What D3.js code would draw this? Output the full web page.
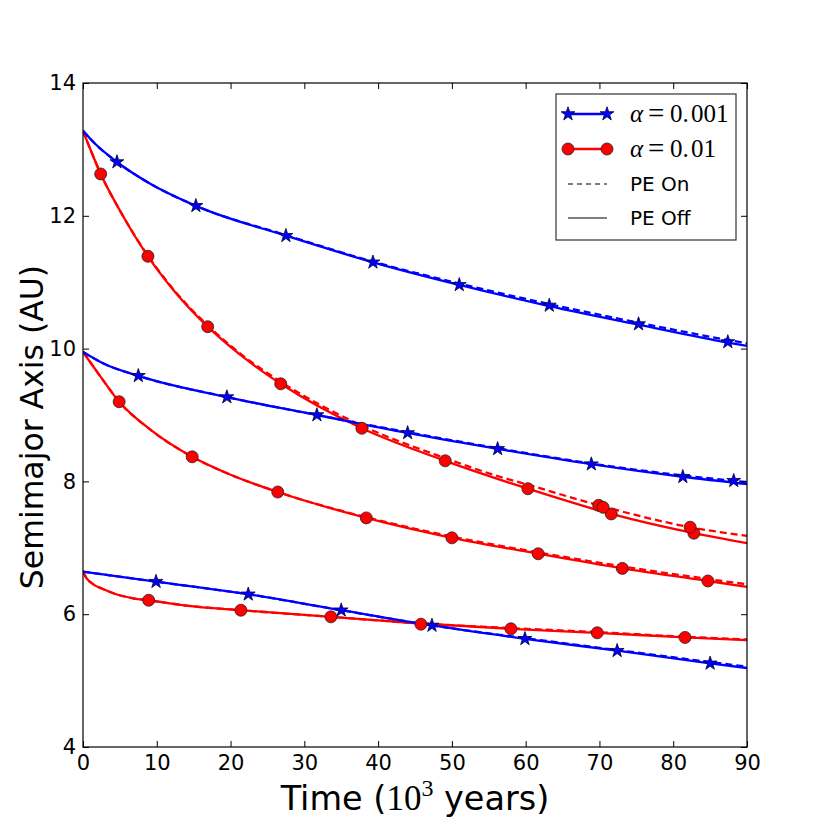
<!DOCTYPE html>
<html><head><meta charset="utf-8">
<script src="https://cdn.jsdelivr.net/npm/d3@7"></script>
<style>body{margin:0;background:#fff}</style>
</head><body><svg id="c" width="830" height="830"></svg>
<script>
// ---------- data ----------
const xTicks = [0,10,20,30,40,50,60,70,80,90];
const yTicks = [4,6,8,10,12,14];

// alpha = 0.001 (blue), start 13.3 AU
const blueHighOffT = [0,1.5,4.6,9,15.3,27.5,39.3,51,63.2,75.3,87.4,90];
const blueHighOffA = [13.28,13.10,12.81,12.49,12.15,11.70,11.30,10.96,10.64,10.36,10.09,10.04];
const blueHighOnT  = [0,1.5,4.6,9,15.3,27.5,39.3,51,63.2,75.3,87.4,90];
const blueHighOnA  = [13.28,13.10,12.81,12.49,12.15,11.71,11.31,10.98,10.67,10.39,10.13,10.08];
const blueHighMarkT = [4.6,15.3,27.5,39.3,51,63.2,75.3,87.4];
const blueHighMarkA = [12.81,12.15,11.70,11.30,10.96,10.65,10.37,10.10];

// alpha = 0.01 (red), start 13.3 AU
const redHighOffT = [0,1,2.4,5,8.8,12.5,16.9,21.5,26.8,37.8,49.1,60.3,71.6,82.8,90];
const redHighOffA = [13.28,13.00,12.63,12.08,11.39,10.85,10.33,9.89,9.47,8.80,8.31,7.89,7.51,7.22,7.07];
const redHighOnT  = [0,1,2.4,5,8.8,12.5,16.9,21.5,26.8,37.8,49.1,56.5,60.3,69.9,82.3,90];
const redHighOnA  = [13.28,13.00,12.63,12.08,11.40,10.86,10.35,9.91,9.50,8.84,8.35,8.07,7.95,7.64,7.31,7.18];
const redHighMarkT = [2.4,8.8,16.9,26.8,37.8,49.1,60.3,71.6,82.8];
const redHighMarkA = [12.63,11.39,10.33,9.47,8.80,8.31,7.89,7.51,7.22];
const redHighOnMarkT = [69.9,70.5,82.3];
const redHighOnMarkA = [7.64,7.61,7.31];

// alpha = 0.001 (blue), start 9.95 AU
const blueMidOffT = [0,2.7,7.5,19.5,31.7,44,56.2,68.9,81.3,90];
const blueMidOffA = [9.95,9.78,9.59,9.27,9.00,8.73,8.49,8.26,8.07,7.96];
const blueMidOnT  = [0,2.7,7.5,19.5,31.7,44,56.2,68.9,81.3,88.2,90];
const blueMidOnA  = [9.95,9.78,9.59,9.27,9.00,8.74,8.50,8.27,8.09,8.01,7.99];
const blueMidMarkT = [7.5,19.5,31.7,44,56.2,68.9,81.3,88.2];
const blueMidMarkA = [9.59,9.27,9.00,8.73,8.49,8.26,8.07,8.01];

// alpha = 0.01 (red), start 9.95 AU
const redMidOffT = [0,2.3,4.9,9,14.8,20,26.4,38.4,50,61.7,73.1,84.7,90];
const redMidOffA = [9.95,9.59,9.20,8.79,8.37,8.10,7.84,7.45,7.15,6.91,6.69,6.50,6.41];
const redMidOnT  = [0,2.3,4.9,9,14.8,20,26.4,38.4,50,61.7,73.1,84.7,90];
const redMidOnA  = [9.95,9.59,9.20,8.79,8.37,8.10,7.84,7.46,7.17,6.93,6.72,6.53,6.45];
const redMidMarkT = [4.9,14.8,26.4,38.4,50,61.7,73.1,84.7];
const redMidMarkA = [9.20,8.37,7.84,7.45,7.15,6.91,6.69,6.50];

// alpha = 0.001 (blue), start 6.65 AU
const blueLowOffT = [0,2.7,9.9,22.4,35,47.3,59.9,72.4,85,90];
const blueLowOffA = [6.64,6.60,6.49,6.30,6.06,5.83,5.63,5.45,5.26,5.19];
const blueLowOnT  = [0,2.7,9.9,22.4,35,47.3,59.9,72.4,85,90];
const blueLowOnA  = [6.64,6.60,6.49,6.30,6.06,5.83,5.64,5.46,5.28,5.21];
const blueLowMarkT = [9.9,22.4,35,47.3,59.9,72.4,85];
const blueLowMarkA = [6.49,6.30,6.06,5.83,5.63,5.45,5.26];

// alpha = 0.01 (red), start 6.65 AU
const redLowOffT = [0,0.5,1.4,2.7,4.5,6.8,8.9,14,21.4,33.6,45.8,58,69.7,81.6,90];
const redLowOffA = [6.64,6.54,6.45,6.38,6.30,6.24,6.21,6.13,6.06,5.96,5.86,5.78,5.72,5.65,5.61];
const redLowOnT  = redLowOffT;
const redLowOnA  = [6.64,6.54,6.45,6.38,6.30,6.24,6.21,6.13,6.06,5.96,5.86,5.79,5.73,5.66,5.62];
const redLowMarkT = [8.9,21.4,33.6,45.8,58,69.7,81.6];
const redLowMarkA = [6.21,6.06,5.96,5.85,5.78,5.72,5.65];

// ---------- build ----------
const zip = (t,a) => t.map((v,i)=>[v,a[i]]);
const BLUE = "#0000ff", RED = "#ff0000";
const lines = [
  {d: zip(redHighOnT, redHighOnA), c: RED, dash: true},
  {d: zip(redMidOnT, redMidOnA), c: RED, dash: true},
  {d: zip(redLowOnT, redLowOnA), c: RED, dash: true},
  {d: zip(redHighOffT, redHighOffA), c: RED, dash: false},
  {d: zip(redMidOffT, redMidOffA), c: RED, dash: false},
  {d: zip(redLowOffT, redLowOffA), c: RED, dash: false},
  {d: zip(blueHighOnT, blueHighOnA), c: BLUE, dash: true},
  {d: zip(blueMidOnT, blueMidOnA), c: BLUE, dash: true},
  {d: zip(blueLowOnT, blueLowOnA), c: BLUE, dash: true},
  {d: zip(blueHighOffT, blueHighOffA), c: BLUE, dash: false},
  {d: zip(blueMidOffT, blueMidOffA), c: BLUE, dash: false},
  {d: zip(blueLowOffT, blueLowOffA), c: BLUE, dash: false},
];
const circles = [].concat(zip(redHighMarkT, redHighMarkA), zip(redHighOnMarkT, redHighOnMarkA),
  zip(redMidMarkT, redMidMarkA), zip(redLowMarkT, redLowMarkA));
const stars = [].concat(zip(blueHighMarkT, blueHighMarkA), zip(blueMidMarkT, blueMidMarkA),
  zip(blueLowMarkT, blueLowMarkA));

const svg = d3.select("#c");
const L = 83, R = 747, T = 83, B = 747;
const x = d3.scaleLinear().domain([0,90]).range([L,R]);
const y = d3.scaleLinear().domain([4,14]).range([B,T]);
const FONT = "DejaVu Sans, sans-serif";
const SERIF = "Liberation Serif, serif";

svg.append("defs").append("clipPath").attr("id","clip")
  .append("rect").attr("x",L).attr("y",T).attr("width",R-L).attr("height",B-T);

const g = svg.append("g").attr("clip-path","url(#clip)");
const line = d3.line().x(d=>x(d[0])).y(d=>y(d[1])).curve(d3.curveMonotoneX);
g.selectAll("path.l").data(lines).join("path").attr("class","l")
  .attr("d", d=>line(d.d)).attr("fill","none").attr("stroke", d=>d.c)
  .attr("stroke-width", 2.3).attr("stroke-dasharray", d=>d.dash ? "7,4" : null);

const starSym = d3.symbol().type(d3.symbolStar).size(60);
g.selectAll("path.s").data(stars).join("path").attr("class","s")
  .attr("transform", d=>`translate(${x(d[0])},${y(d[1])})`).attr("d", starSym())
  .attr("fill", BLUE).attr("stroke","#000033").attr("stroke-width",0.8);
g.selectAll("circle.m").data(circles).join("circle").attr("class","m")
  .attr("cx", d=>x(d[0])).attr("cy", d=>y(d[1])).attr("r",6)
  .attr("fill", RED).attr("stroke","#222").attr("stroke-width",0.8);

// axes
function styleAxis(sel){
  sel.select(".domain").remove();
  sel.selectAll(".tick line").attr("stroke","#000").attr("stroke-width",1);
  sel.selectAll(".tick text").attr("font-family",FONT).attr("font-size",21).attr("fill","#000");
}
svg.append("g").attr("transform",`translate(0,${B})`)
  .call(d3.axisBottom(x).tickValues(xTicks).tickSizeInner(-6).tickSizeOuter(0).tickPadding(8).tickFormat(d3.format("d")))
  .call(styleAxis);
svg.append("g").attr("transform",`translate(0,${T})`)
  .call(d3.axisTop(x).tickValues(xTicks).tickSizeInner(-6).tickSizeOuter(0).tickFormat(""))
  .call(styleAxis);
svg.append("g").attr("transform",`translate(${L},0)`)
  .call(d3.axisLeft(y).tickValues(yTicks).tickSizeInner(-6).tickSizeOuter(0).tickPadding(7).tickFormat(d3.format("d")))
  .call(styleAxis);
svg.append("g").attr("transform",`translate(${R},0)`)
  .call(d3.axisRight(y).tickValues(yTicks).tickSizeInner(-6).tickSizeOuter(0).tickFormat(""))
  .call(styleAxis);

svg.append("rect").attr("x",L).attr("y",T).attr("width",R-L).attr("height",B-T)
  .attr("fill","none").attr("stroke","#000").attr("stroke-width",1.2);

// axis labels
const xl = svg.append("text").attr("x",(L+R)/2).attr("y",810).attr("text-anchor","middle")
  .attr("font-family",FONT).attr("font-size",33.5).attr("fill","#000");
xl.append("tspan").text("Time (");
xl.append("tspan").attr("font-family",SERIF).attr("font-size",35).text("10");
xl.append("tspan").attr("font-family",SERIF).attr("font-size",24).attr("dy",-14).text("3");
xl.append("tspan").attr("dy",14).text(" years)");

svg.append("text").attr("transform",`translate(43,427) rotate(-90)`).attr("text-anchor","middle")
  .attr("font-family",FONT).attr("font-size",31.5).attr("fill","#000").text("Semimajor Axis (AU)");

// legend
const lg = svg.append("g");
lg.append("rect").attr("x",556).attr("y",94).attr("width",180).attr("height",146)
  .attr("fill","#fff").attr("stroke","#333").attr("stroke-width",1.2);
const legendItems = [
  {type:"star", y:114, num:"001"},
  {type:"circle", y:149, num:"01"},
  {type:"dash", y:184, label:"PE On"},
  {type:"solid", y:218, label:"PE Off"}
];
const lx0 = 568, lx1 = 607;
legendItems.forEach(it=>{
  if(it.type==="star"){
    lg.append("line").attr("x1",lx0).attr("x2",lx1).attr("y1",it.y).attr("y2",it.y).attr("stroke",BLUE).attr("stroke-width",2.3);
    [lx0,lx1].forEach(px=>lg.append("path").attr("transform",`translate(${px},${it.y})`).attr("d",starSym())
      .attr("fill",BLUE).attr("stroke","#000033").attr("stroke-width",0.8));
  } else if(it.type==="circle"){
    lg.append("line").attr("x1",lx0).attr("x2",lx1).attr("y1",it.y).attr("y2",it.y).attr("stroke",RED).attr("stroke-width",2.3);
    [lx0,lx1].forEach(px=>lg.append("circle").attr("cx",px).attr("cy",it.y).attr("r",6)
      .attr("fill",RED).attr("stroke","#222").attr("stroke-width",0.8));
  } else {
    lg.append("line").attr("x1",lx0).attr("x2",lx1).attr("y1",it.y).attr("y2",it.y).attr("stroke","#000")
      .attr("stroke-width",1.2).attr("stroke-dasharray", it.type==="dash" ? "5,4" : null);
  }
  if(it.num){
    const t = lg.append("text").attr("y",it.y+8).attr("fill","#000")
      .attr("font-family",SERIF).attr("font-size",25);
    t.append("tspan").attr("x",630).attr("font-style","italic").text("α");
    t.append("tspan").attr("x",648).attr("font-size",29).attr("dy",1).text("=");
    t.append("tspan").attr("x",670).attr("dy",-1).text("0.");
    t.append("tspan").attr("x",691).text(it.num);
  } else {
    lg.append("text").attr("x",630).attr("y",it.y+7).attr("fill","#000")
      .attr("font-family",FONT).attr("font-size",20).text(it.label);
  }
});
</script></body></html>
